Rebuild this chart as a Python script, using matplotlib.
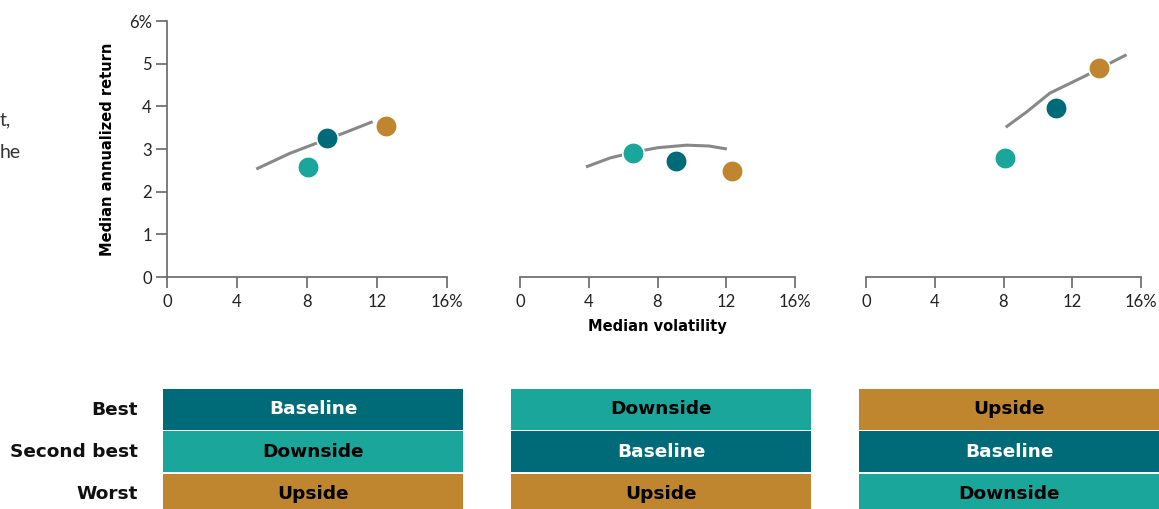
import matplotlib
matplotlib.use("Agg")
import matplotlib.pyplot as plt

plt.rcParams["font.family"] = ["Lato", "DejaVu Sans"]
BOLD_FONT = ["DejaVu Sans"]

scenarios = ["Baseline", "Downside", "Upside"]
colors = {"Baseline": "#006b78", "Downside": "#1ba69c", "Upside": "#c0862f"}

# median volatility / return per panel, ordered as scenarios
panel_vol = [[9.14, 8.06, 12.51], [9.08, 6.57, 12.33], [11.05, 8.09, 13.55]]
panel_ret = [[3.26, 2.58, 3.54], [2.72, 2.91, 2.48], [3.96, 2.79, 4.90]]

# frontier curves
curve_x = [
    [5.1, 7.03, 9.14, 10.08, 11.75],
    [3.84, 5.24, 6.57, 8.0, 9.7, 11.0, 12.04],
    [8.13, 9.35, 10.70, 12.64, 14.38, 15.16],
]
curve_y = [
    [2.53, 2.90, 3.23, 3.37, 3.64],
    [2.58, 2.79, 2.92, 3.03, 3.09, 3.07, 3.00],
    [3.51, 3.87, 4.31, 4.69, 5.05, 5.21],
]

rank_labels = ["Best", "Second best", "Worst"]
rankings = [
    ["Baseline", "Downside", "Upside"],
    ["Downside", "Baseline", "Upside"],
    ["Upside", "Baseline", "Downside"],
]

x_ticks = [0, 4, 8, 12, 16]
x_tick_labels = ["0", "4", "8", "12", "16%"]
y_ticks = [0, 1, 2, 3, 4, 5, 6]
y_tick_labels = ["0", "1", "2", "3", "4", "5", "6%"]

W, H = 1159, 509
fig = plt.figure(figsize=(W / 100, H / 100), dpi=100)


def px_axes(left, top, width, height):
    return fig.add_axes([left / W, (H - top - height) / H, width / W, height / H])


panel_left = [167, 520, 866]
panel_width = [280, 275, 275]
axis_color = "#666666"

for k in range(3):
    ax = px_axes(panel_left[k], 21, panel_width[k], 256)
    ax.set_xlim(0, 16)
    ax.set_ylim(0, 6)
    for side in ["top", "right"]:
        ax.spines[side].set_visible(False)
    ax.spines["bottom"].set_color(axis_color)
    ax.spines["bottom"].set_linewidth(1.2)
    ax.set_xticks(x_ticks)
    ax.set_xticklabels(x_tick_labels)
    ax.tick_params(axis="x", length=8, width=1.2, color=axis_color, labelsize=12,
                   labelcolor="#222222", pad=4)
    if k == 0:
        ax.spines["left"].set_color(axis_color)
        ax.spines["left"].set_linewidth(1.2)
        ax.set_yticks(y_ticks)
        ax.set_yticklabels(y_tick_labels)
        ax.tick_params(axis="y", length=8, width=1.2, color=axis_color, labelsize=12,
                       labelcolor="#222222", pad=3)
        ax.set_ylabel("Median annualized return", fontsize=10.5, fontweight="bold",
                      family=BOLD_FONT, labelpad=10)
    else:
        ax.spines["left"].set_visible(False)
        ax.set_yticks([])
    if k == 1:
        ax.set_xlabel("Median volatility", fontsize=10.5, fontweight="bold",
                      family=BOLD_FONT, labelpad=7)

    ax.plot(curve_x[k], curve_y[k], color="#888888", lw=2.2, solid_capstyle="butt",
            zorder=2)
    for i, name in enumerate(scenarios):
        ax.scatter(panel_vol[k][i], panel_ret[k][i], s=240, color=colors[name],
                   edgecolor="white", linewidth=1.2, zorder=3, clip_on=False)

# ranking table
table_left = [163, 511, 859]
for k in range(3):
    tax = px_axes(table_left[k], 388, 300, 127.5)
    tax.set_xlim(0, 1)
    tax.set_ylim(3, 0)
    tax.axis("off")
    for r, name in enumerate(rankings[k]):
        tax.barh(r + 0.5, 1, left=0, height=0.965, color=colors[name])
        txt_color = "white" if name == "Baseline" else "black"
        tax.text(0.5, r + 0.5, name, ha="center", va="center", fontsize=13.3,
                 fontweight="bold", family=BOLD_FONT, color=txt_color)

for r, label in enumerate(rank_labels):
    fig.text(138 / W, (H - 410 - 42 * r) / H, label, ha="right", va="center",
             fontsize=13.3, fontweight="bold", family=BOLD_FONT, color="#111111")

# visible fragments of text cropped at the left edge
fig.text(0, (H - 120) / H, "t,", ha="left", va="center", fontsize=14,
         color="#333333")
fig.text(0, (H - 152) / H, "he", ha="left", va="center", fontsize=14,
         color="#333333")

fig.savefig("out.png", dpi=100)
